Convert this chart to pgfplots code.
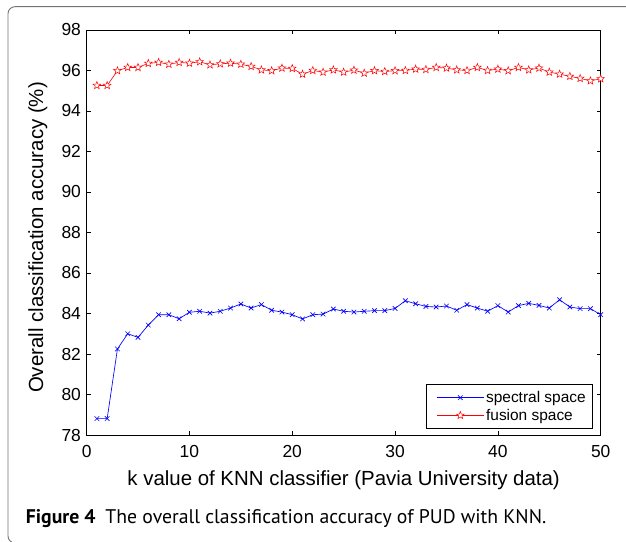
\documentclass[border=0pt]{standalone}
\usepackage{pgfplots}
\pgfplotsset{compat=1.18}
\usepackage{fontspec}
\setmainfont{Liberation Sans}
\newfontfamily\capfont{PT Sans}
\pgfdeclareplotmark{ostar}{%
  \pgfpathmoveto{\pgfpointpolar{90}{\pgfplotmarksize}}%
  \pgfpathlineto{\pgfpointpolar{126}{0.42\pgfplotmarksize}}%
  \pgfpathlineto{\pgfpointpolar{162}{\pgfplotmarksize}}%
  \pgfpathlineto{\pgfpointpolar{198}{0.42\pgfplotmarksize}}%
  \pgfpathlineto{\pgfpointpolar{234}{\pgfplotmarksize}}%
  \pgfpathlineto{\pgfpointpolar{270}{0.42\pgfplotmarksize}}%
  \pgfpathlineto{\pgfpointpolar{306}{\pgfplotmarksize}}%
  \pgfpathlineto{\pgfpointpolar{342}{0.42\pgfplotmarksize}}%
  \pgfpathlineto{\pgfpointpolar{18}{\pgfplotmarksize}}%
  \pgfpathlineto{\pgfpointpolar{54}{0.42\pgfplotmarksize}}%
  \pgfpathclose
  \pgfusepathqfillstroke
}
\pgfplotstableread{
k  spec   fus
1  78.81  95.26
2  78.81  95.26
3  82.25  95.99
4  83.00  96.15
5  82.82  96.15
6  83.43  96.35
7  83.94  96.40
8  83.94  96.31
9  83.74  96.40
10 84.06  96.36
11 84.11  96.43
12 84.02  96.28
13 84.11  96.33
14 84.27  96.36
15 84.47  96.31
16 84.27  96.20
17 84.44  96.03
18 84.16  95.99
19 84.07  96.12
20 83.94  96.10
21 83.73  95.82
22 83.94  96.00
23 83.97  95.92
24 84.22  96.03
25 84.11  95.92
26 84.07  96.02
27 84.11  95.87
28 84.14  95.99
29 84.14  95.95
30 84.25  95.99
31 84.63  96.00
32 84.48  96.07
33 84.35  96.05
34 84.32  96.15
35 84.37  96.12
36 84.16  96.03
37 84.44  96.00
38 84.27  96.15
39 84.11  96.00
40 84.39  96.07
41 84.07  95.99
42 84.39  96.15
43 84.50  96.03
44 84.40  96.12
45 84.27  95.92
46 84.68  95.82
47 84.32  95.71
48 84.24  95.61
49 84.24  95.49
50 83.94  95.59
}\datatable
\begin{document}
\begin{tikzpicture}
\useasboundingbox (0bp,0bp) rectangle (626bp,542bp);
\begin{scope}
\clip (0bp,0bp) rectangle (626bp,542bp);
\draw[black!55, line width=0.9bp, rounded corners=7bp] (8bp,-1bp) rectangle (660bp,535.3bp);
\end{scope}
\node[anchor=base west, inner sep=0pt, font=\capfont\fontsize{19.8}{23}\selectfont] at (25.7bp,19bp)
  {\textbf{Figure 4}\hspace{0.5em}The overall classification accuracy of PUD with KNN.};
\begin{axis}[
  at={(86.6bp,107bp)}, anchor=south west,
  width=514.1bp, height=405bp, scale only axis,
  xmin=0, xmax=50, ymin=78, ymax=98,
  xtick={0,10,...,50}, ytick={78,80,...,98},
  tick align=inside, major tick length=4bp,
  axis line style={line width=0.75bp},
  every tick/.style={black, line width=0.6bp},
  /pgf/number format/assume math mode=true,
  ticklabel style={font=\fontsize{17.5}{20}\selectfont},
  xticklabel style={inner sep=0pt, anchor=north, yshift=-10bp},
  yticklabel style={inner sep=0pt, anchor=east, xshift=-5.5bp},
  xlabel={k value of KNN classifier (Pavia University data)},
  ylabel={Overall classification accuracy (\%)},
  label style={font=\fontsize{20.5}{24}\selectfont},
  xlabel style={at={(axis description cs:0.5,-0.1235)}, anchor=base, inner sep=0pt},
  ylabel style={at={(axis description cs:-0.0848,0.4877)}, anchor=base, inner sep=0pt},
  legend style={at={(1,0)}, anchor=south east, xshift=-7.7bp, yshift=6bp,
    font=\fontsize{15.5}{18}\selectfont, draw=black, line width=0.6bp,
    inner xsep=5bp, inner ysep=5bp, row sep=1bp, nodes={inner sep=2bp},
    cells={anchor=west}},
  legend image code/.code={%
    \path (0bp,0bp);
    \draw[mark repeat=2, mark phase=2] plot coordinates {(5bp,0bp) (28.5bp,0bp) (52bp,0bp)};},
]
\addplot[blue, line width=0.65bp, mark=x, mark size=3.2bp] table[x=k, y=spec] {\datatable};
\addlegendentry{spectral space}
\addplot[red, line width=0.6bp, mark=ostar, mark size=4bp, mark options={fill=white, line width=0.5bp}] table[x=k, y=fus] {\datatable};
\addlegendentry{fusion space}
\end{axis}
\end{tikzpicture}
\end{document}
